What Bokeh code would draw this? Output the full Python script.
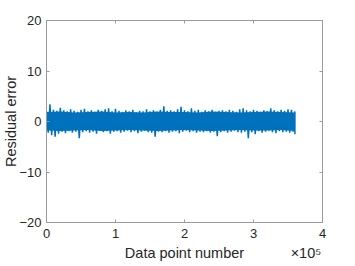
from bokeh.plotting import figure
from bokeh.models import LinearAxis, FixedTicker, Range1d
from bokeh.embed import file_html
from bokeh.resources import INLINE

# Peak samples of the residual signal (every 5000 points)
sample_x = list(range(0, 360001, 5000))
upper_peaks = [2.0, 3.4, 2.3, 2.1, 2.7, 2.2, 2.0, 2.4, 2.1, 1.9,
               2.3, 2.5, 2.0, 2.2, 1.9, 2.3, 2.1, 2.4, 2.6, 2.0,
               2.5, 2.1, 1.9, 2.2, 2.0, 2.3, 1.8, 2.1, 2.0, 2.4,
               2.0, 2.2, 1.9, 2.3, 3.0, 2.1, 2.2, 2.0, 2.4, 2.9,
               2.2, 2.0, 2.6, 2.1, 2.3, 1.9, 2.2, 2.0, 2.3, 1.9,
               2.1, 2.2, 2.0, 2.3, 2.1, 1.9, 2.4, 2.6, 2.2, 2.0,
               2.3, 2.1, 1.9, 2.2, 2.0, 2.6, 2.2, 2.0, 2.3, 2.1,
               2.4, 2.3, 2.0]
lower_peaks = [-2.2, -2.7, -3.0, -2.4, -2.0, -2.3, -1.9, -2.2, -2.0, -3.3,
               -2.1, -1.9, -2.2, -2.0, -2.4, -1.8, -2.1, -1.9, -2.4, -2.0,
               -1.9, -2.2, -2.0, -1.8, -2.1, -1.9, -2.3, -2.0, -1.8, -2.1,
               -2.2, -3.0, -2.0, -2.1, -1.9, -2.2, -2.0, -1.9, -2.3, -2.0,
               -1.8, -2.1, -1.9, -2.2, -2.0, -2.1, -1.9, -2.2, -2.0, -2.9,
               -2.1, -1.9, -2.2, -2.0, -1.8, -2.1, -2.2, -2.0, -3.3, -2.1,
               -2.5, -1.9, -2.2, -2.0, -1.8, -2.1, -2.3, -1.9, -2.1, -2.0,
               -2.2, -2.0, -2.5]

# Dense core of the trace (where the blue is solid), every 20000 points
core_x = list(range(0, 360001, 20000))
core_hi = [1.9, 2.0, 1.8, 1.9, 2.0, 1.8, 1.9, 1.8, 2.0, 1.9,
           1.9, 1.8, 2.0, 1.9, 1.8, 1.9, 2.0, 1.9, 1.8]
core_lo = [-1.8, -1.9, -1.8, -1.7, -1.9, -1.8, -1.7, -1.8, -1.9, -1.8,
           -1.7, -1.8, -1.9, -1.8, -1.7, -1.8, -1.8, -1.7, -1.9]

x_ticks = [0, 100000, 200000, 300000, 400000]
x_tick_labels = ["0", "1", "2", "3", "4"]
y_ticks = [-20, -10, 0, 10, 20]
x_title = "Data point number"
x_exponent = "×10⁵"
y_title = "Residual error"

# interleave upper and lower peaks into a zig-zag residual trace
zx, zy = [], []
for i in range(len(sample_x)):
    zx.append(sample_x[i])
    zy.append(upper_peaks[i])
    zx.append(sample_x[i] + 2500 if i < len(sample_x) - 1 else sample_x[i])
    zy.append(lower_peaks[i])

FONT = "Liberation Sans"
AX = "#9a9a9a"
TXT = "#262626"
BLUE = "#0072BD"

p = figure(width=355, height=266, output_backend="svg", toolbar_location=None,
           x_range=Range1d(0, 400000), y_range=Range1d(-20, 20),
           min_border_left=46, min_border_right=33, min_border_top=20,
           min_border_bottom=44, background_fill_color="white",
           border_fill_color="white")
p.grid.visible = False
p.outline_line_color = None

p.varea(x=core_x, y1=core_lo, y2=core_hi, fill_color=BLUE)
p.line(zx, zy, line_color=BLUE, line_width=1.5)

def style(ax):
    ax.axis_line_color = AX
    ax.axis_line_width = 1
    ax.major_tick_line_color = AX
    ax.major_tick_in = 3
    ax.major_tick_out = 0
    ax.minor_tick_line_color = None
    ax.major_label_text_font = FONT
    ax.major_label_text_font_size = "13px"
    ax.major_label_text_color = TXT
    ax.axis_label_text_font = FONT
    ax.axis_label_text_font_size = "14.5px"
    ax.axis_label_text_font_style = "normal"
    ax.axis_label_text_color = TXT

xa = p.xaxis[0]
xa.ticker = FixedTicker(ticks=x_ticks)
xa.major_label_overrides = {t: l for t, l in zip(x_ticks, x_tick_labels)}
style(xa)
xa.major_label_standoff = 6

# second row below the x axis: axis title (centred) and the ×10^5 exponent note
title_pos = 200000
exp_pos = 376000
xt = LinearAxis(ticker=FixedTicker(ticks=[title_pos, exp_pos]))
style(xt)
xt.axis_line_color = None
xt.major_tick_line_color = None
xt.major_label_text_font_size = "14.5px"
xt.major_label_overrides = {title_pos: x_title, exp_pos: x_exponent}
xt.major_label_standoff = 4
p.add_layout(xt, "below")

ya = p.yaxis[0]
ya.ticker = FixedTicker(ticks=y_ticks)
style(ya)
ya.major_label_standoff = 5
ya.axis_label = y_title
ya.axis_label_standoff = -3

top = LinearAxis(ticker=FixedTicker(ticks=x_ticks))
style(top)
top.major_label_overrides = {t: "" for t in x_ticks}
top.major_label_standoff = 0
p.add_layout(top, "above")
right = LinearAxis(ticker=FixedTicker(ticks=y_ticks))
style(right)
right.major_label_overrides = {t: "" for t in y_ticks}
right.major_label_standoff = 0
p.add_layout(right, "right")

open("out.html", "w").write(file_html(p, INLINE))
